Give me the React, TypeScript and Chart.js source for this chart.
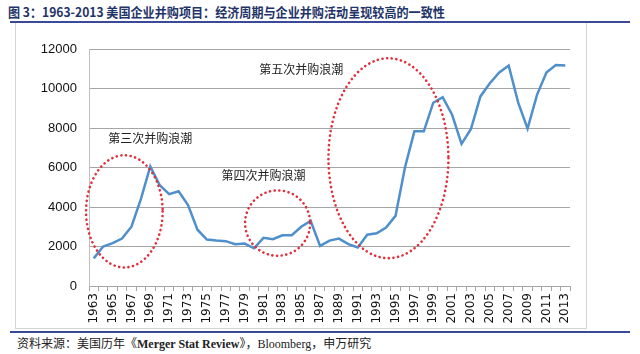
import React, { useEffect, useRef } from "react";
import { Chart, registerables } from "chart.js";

Chart.register(...registerables);

const years = [
  "1963", "1964", "1965", "1966", "1967", "1968", "1969", "1970", "1971", "1972",
  "1973", "1974", "1975", "1976", "1977", "1978", "1979", "1980", "1981", "1982",
  "1983", "1984", "1985", "1986", "1987", "1988", "1989", "1990", "1991", "1992",
  "1993", "1994", "1995", "1996", "1997", "1998", "1999", "2000", "2001", "2002",
  "2003", "2004", "2005", "2006", "2007", "2008", "2009", "2010", "2011", "2012",
  "2013",
];

const dealCounts = [
  1400, 2000, 2170, 2400, 3000, 4400, 6050, 5100, 4650, 4800,
  4100, 2850, 2350, 2300, 2270, 2120, 2150, 1910, 2440, 2370,
  2570, 2570, 3000, 3300, 2030, 2300, 2400, 2120, 1950, 2600,
  2670, 2960, 3550, 6000, 7830, 7830, 9280, 9560, 8670, 7200,
  7950, 9600, 10270, 10810, 11160, 9300, 7970, 9680, 10810, 11190,
  11160,
];

const yMin = 0;
const yMax = 12000;
const yStep = 2000;

const waveLabels = ["第三次并购浪潮", "第四次并购浪潮", "第五次并购浪潮"];
const waveLabelYear = [1969, 1981, 1985];
const waveLabelValue = [7460, 5610, 10990];
const waveCenterYear = [1966.25, 1982.5, 1994.25];
const waveCenterValue = [3780, 3185, 6470];
const waveRadiusYears = [4.06, 3.45, 6.36];
const waveRadiusValue = [2840, 1655, 5060];

const titleText = "图 3：1963-2013 美国企业并购项目：经济周期与企业并购活动呈现较高的一致性";

const wavePlugin = {
  id: "waves",
  afterDatasetsDraw(chart: any) {
    const ctx = chart.ctx;
    const xs = chart.scales.x;
    const ys = chart.scales.y;
    const first = Number(years[0]);
    const catW = xs.getPixelForValue(1) - xs.getPixelForValue(0);
    ctx.save();
    for (let i = 0; i < waveLabels.length; i++) {
      const cx = xs.getPixelForValue(waveCenterYear[i] - first);
      const cy = ys.getPixelForValue(waveCenterValue[i]);
      const rx = waveRadiusYears[i] * catW;
      const ry = ys.getPixelForValue(0) - ys.getPixelForValue(waveRadiusValue[i]);
      ctx.beginPath();
      ctx.ellipse(cx, cy, rx, ry, 0, 0, Math.PI * 2);
      ctx.strokeStyle = "#e0303c";
      ctx.lineWidth = 2.6;
      ctx.lineCap = "round";
      ctx.setLineDash([0.1, 4.6]);
      ctx.stroke();
    }
    ctx.setLineDash([]);
    ctx.fillStyle = "#222";
    ctx.font = '12px "Noto Sans CJK SC"';
    ctx.textAlign = "center";
    ctx.textBaseline = "middle";
    for (let i = 0; i < waveLabels.length; i++) {
      const lx = xs.getPixelForValue(waveLabelYear[i] - first);
      const ly = ys.getPixelForValue(waveLabelValue[i]);
      ctx.fillText(waveLabels[i], lx, ly);
    }
    ctx.restore();
  },
};

export default function App() {
  const canvasRef = useRef<HTMLCanvasElement | null>(null);

  useEffect(() => {
    if (!canvasRef.current) return;
    const chart = new Chart(canvasRef.current, {
      type: "line",
      data: {
        labels: years,
        datasets: [
          {
            data: dealCounts,
            borderColor: "#4f8fcc",
            borderWidth: 2.5,
            pointRadius: 0,
            tension: 0,
            fill: false,
          },
        ],
      },
      options: {
        animation: false,
        responsive: false,
        maintainAspectRatio: false,
        layout: { padding: { top: 26, right: 16, left: 0, bottom: 0 } },
        plugins: {
          legend: { display: false },
          tooltip: { enabled: false },
        },
        scales: {
          x: {
            offset: true,
            grid: {
              offset: true,
              drawOnChartArea: false,
              drawTicks: true,
              tickLength: 5,
              color: "#a6a6a6",
            },
            border: { color: "#a6a6a6" },
            ticks: {
              autoSkip: false,
              maxRotation: 90,
              minRotation: 90,
              padding: 2,
              color: "#111",
              font: { family: "DejaVu Sans", size: 12 },
              callback: (_v: any, i: number) => (i % 2 === 0 ? years[i] : ""),
            },
            afterFit: (s: any) => {
              s.height = 42;
            },
          },
          y: {
            min: yMin,
            max: yMax,
            ticks: {
              stepSize: yStep,
              padding: 12,
              color: "#111",
              font: { family: "Liberation Sans", size: 13 },
              callback: (v: any) => String(v),
            },
            grid: { color: "#a6a6a6", drawTicks: false },
            border: { color: "#bfbfbf" },
            afterFit: (s: any) => {
              s.width = 73;
            },
          },
        },
      },
      plugins: [wavePlugin],
    });
    return () => chart.destroy();
  }, []);

  return (
    <div style={{ position: "fixed", left: 0, top: 0, width: 640, height: 354, background: "#fff" }}>
      <div
        style={{
          position: "absolute",
          left: 8,
          top: 3,
          fontFamily: '"Noto Sans CJK SC", sans-serif',
          fontWeight: 700,
          fontSize: 13,
          color: "#1f3468",
          whiteSpace: "nowrap",
          lineHeight: "17px",
          transform: "scaleX(0.93)",
          transformOrigin: "left top",
        }}
      >
        {titleText}
      </div>
      <div style={{ position: "absolute", left: 10, top: 21, width: 620, height: 2, background: "#3a4a98" }} />
      <div
        style={{
          position: "absolute",
          left: 15,
          top: 23,
          width: 570,
          height: 305,
          border: "1px solid #d4d4d4",
          borderTop: "none",
        }}
      >
        <canvas ref={canvasRef} width={570} height={305} style={{ display: "block" }} />
      </div>
      <div style={{ position: "absolute", left: 10, top: 331, width: 620, height: 2, background: "#3a4a98" }} />
      <div
        style={{
          position: "absolute",
          left: 17,
          top: 335,
          fontFamily: '"Liberation Serif", "Noto Sans CJK SC", serif',
          fontSize: 12,
          color: "#222",
          whiteSpace: "nowrap",
          lineHeight: "16px",
        }}
      >
        <span style={{ fontFamily: '"Noto Sans CJK SC"' }}>资料来源：美国历年《</span>
        <b>Merger Stat Review</b>
        <span style={{ fontFamily: '"Noto Sans CJK SC"' }}>》，</span>
        Bloomberg
        <span style={{ fontFamily: '"Noto Sans CJK SC"' }}>，申万研究</span>
      </div>
    </div>
  );
}
